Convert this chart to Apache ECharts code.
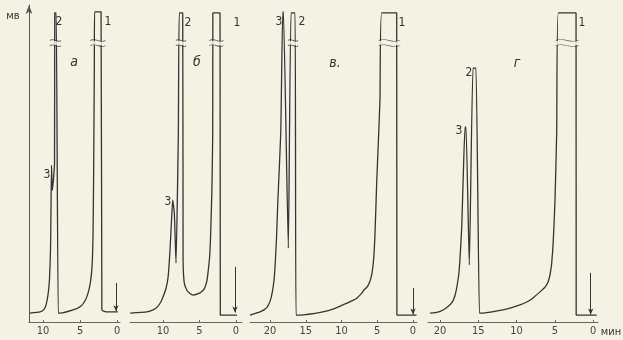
<!DOCTYPE html>
<html><head><meta charset="utf-8">
<script src="https://cdn.jsdelivr.net/npm/echarts@6/dist/echarts.min.js"></script>
<style>html,body{margin:0;padding:0;background:#f4f2e3;}#c{width:623px;height:340px;}</style>
</head><body><div id="c"></div>
<script>
// ---- data (time in minutes, signal in relative mV units 0..100) ----
const curveA = [[11.8,2.8],[10.4,3.2],[9.9,3.9],[9.6,5.3],[9.3,9.1],[9.12,14],[9.0,22],[8.95,30],[8.86,49.5],[8.74,41.5],[8.45,50],[8.42,97.5],[8.22,97.5],[7.95,2.8],[7.7,2.8],[5.95,3.8],[4.9,5.0],[4.3,6.8],[3.92,9.1],[3.6,12.5],[3.38,17.4],[3.25,27],[3.17,45],[3.07,80.4],[3.04,97.8],[2.16,97.8],[2.05,3.8],[1.5,3.2],[-0.1,3.2]];
const curveB = [[14.5,2.8],[12.2,3.2],[11.3,3.9],[10.8,4.7],[10.3,6.3],[10.0,7.9],[9.6,10.5],[9.3,14.2],[9.04,22.7],[8.81,33.1],[8.67,38.5],[8.45,34.4],[8.22,18.6],[7.9,59.6],[7.77,97.5],[7.3,97.5],[7.25,20],[7.1,12.5],[6.75,10.1],[6.3,9.0],[5.89,8.5],[4.93,9.2],[4.5,10.0],[4.25,11.0],[4.0,12.8],[3.84,15.5],[3.6,21],[3.47,28.1],[3.3,42],[3.19,59.6],[3.17,97.5],[2.19,97.5],[2.15,2.2],[-0.14,2.2]];
const curveV = [[22.8,2.2],[21.4,3.2],[20.8,3.9],[20.4,4.7],[20.0,6.5],[19.7,9.2],[19.45,13],[19.3,17.4],[19.1,26],[18.9,38.5],[18.5,59.6],[18.22,97.8],[18.12,97.8],[17.44,23.3],[17.06,97.5],[16.5,97.5],[16.36,2.2],[15.8,2.2],[12.6,3.2],[11.0,4.2],[9.8,5.4],[8.7,6.5],[7.83,7.6],[7.13,9.2],[6.9,10.0],[6.43,11.0],[6.0,13.0],[5.73,15.5],[5.5,20],[5.31,28.1],[5.08,43.9],[4.85,56.5],[4.62,70.0],[4.38,97.5],[2.28,97.5],[2.25,2.2],[-0.5,2.2]];
const curveG = [[21.3,2.8],[20.3,3.1],[19.6,3.8],[19.0,4.8],[18.4,6.3],[18.05,8.3],[17.8,11.0],[17.55,15],[17.4,19.6],[17.16,30.0],[16.95,47.0],[16.73,61.5],[16.6,61.5],[16.17,18.0],[15.69,80.1],[15.3,80.1],[14.85,2.8],[14.6,2.8],[11.76,3.8],[9.54,5.4],[8.6,6.4],[7.84,7.6],[6.93,9.5],[6.27,11.0],[5.88,12.6],[5.6,15.2],[5.4,18.6],[5.19,25.9],[4.97,38.5],[4.75,59.6],[4.54,97.5],[2.22,97.5],[2.2,2.2],[-0.48,2.2]];

const ticksA = [0,5,10];
const ticksB = [0,5,10];
const ticksV = [0,5,10,15,20];
const ticksG = [0,5,10,15,20];

// injection arrows: [time, from, to]
const arrowA = [0.14, 12.3, 3.4];
const arrowB = [0.14, 17.4, 3.0];
const arrowV = [0.0, 10.7, 2.4];
const arrowG = [0.3, 15.5, 2.4];

// off-scale break marks: [time, level]
const breaksA = [[8.32,88],[2.6,88]];
const breaksB = [[7.53,88],[2.68,88]];
const breaksV = [[16.78,88],[3.33,88]];
const breaksG = [[3.38,88]];

// ---- styling / layout ----
const BG = '#f4f2e3', INK = '#343434';
const FONT = "'Liberation Sans Narrow','DejaVu Sans Condensed','DejaVu Sans',sans-serif";
const grids = [
  {left:29, width:91, min:-0.4, max:11.9, ticks:ticksA, curve:curveA, arrow:arrowA, breaks:breaksA, bw:[9,13]},
  {left:130, width:112, min:-0.82, max:14.52, ticks:ticksB, curve:curveB, arrow:arrowB, breaks:breaksB, bw:[8,12]},
  {left:250, width:167, min:-0.56, max:22.8, ticks:ticksV, curve:curveV, arrow:arrowV, breaks:breaksV, bw:[8,19]},
  {left:428, width:170, min:-0.65, max:21.57, ticks:ticksG, curve:curveG, arrow:arrowG, breaks:breaksG, bw:[21]}
];

const chart = echarts.init(document.getElementById('c'), null, {renderer:'canvas'});
const option = {
  backgroundColor: BG,
  animation: false,
  grid: grids.map(g => ({left:g.left, width:g.width, top:5, bottom:18, containLabel:false})),
  xAxis: grids.map((g,i) => ({
    type:'value', gridIndex:i, inverse:true, min:g.min, max:g.max,
    axisLine:{show:true, onZero:false, lineStyle:{color:'#666', width:1}},
    axisTick:{show:true, inside:true, length:2, customValues:g.ticks, lineStyle:{color:'#666'}},
    axisLabel:{customValues:g.ticks, fontSize:11, color:'#444', margin:4, fontFamily:FONT},
    splitLine:{show:false}
  })),
  yAxis: grids.map((g,i) => ({
    type:'value', gridIndex:i, min:0, max:100, show: i===0,
    axisLine:{show:true, onZero:false, symbol:['none','arrow'], symbolSize:[5,9], lineStyle:{color:'#555', width:1}},
    axisTick:{show:false}, axisLabel:{show:false}, splitLine:{show:false}
  })),
  series: []
};
grids.forEach((g,i) => {
  option.series.push({
    type:'line', xAxisIndex:i, yAxisIndex:i, data:g.curve, symbol:'none', z:2,
    smooth:0.15,
    lineStyle:{color:INK, width:1.3},
    markLine:{silent:true, symbol:['none','arrow'], symbolSize:[4,6], label:{show:false},
      lineStyle:{color:INK, width:1, type:'solid'},
      data:[[{coord:[g.arrow[0], g.arrow[1]]},{coord:[g.arrow[0], g.arrow[2]]}]]}
  });
  option.series.push({
    type:'scatter', xAxisIndex:i, yAxisIndex:i, z:3, silent:true,
    data:g.breaks.map((b,k)=>({value:b, symbolSize:[g.bw[k]+2,4]})),
    symbol:'rect', itemStyle:{color:BG}
  });
  option.series.push({
    type:'scatter', xAxisIndex:i, yAxisIndex:i, z:4, silent:true,
    data:g.breaks.map((b,k)=>({value:b, symbolSize:[g.bw[k]+2,7]})),
    symbol:'path://M0,3 C4,0 8,6 12,3 M0,8 C4,5 8,11 12,8',
    itemStyle:{color:'transparent', borderColor:INK, borderWidth:1}
  });
});
const txt = (x,y,t,opt={}) => ({type:'text', x, y, style:Object.assign({text:t, fill:INK, font:'12px '+FONT, textAlign:'center', textVerticalAlign:'middle'}, opt)});
option.graphic = [
  txt(13,16,'мв',{font:'11px '+FONT}),
  txt(611,332,'мин',{font:'11px '+FONT}),
  txt(74,62,'а',{font:'italic 14px '+FONT}),
  txt(197,62,'б',{font:'italic 14px '+FONT}),
  txt(335,63,'в.',{font:'italic 14px '+FONT}),
  txt(517,63,'г',{font:'italic 14px '+FONT}),
  txt(59,22,'2'), txt(108,22,'1'), txt(47,175,'3'),
  txt(188,23,'2'), txt(237,23,'1'), txt(168,202,'3'),
  txt(279,22,'3'), txt(302,22,'2'), txt(402,23,'1'),
  txt(582,23,'1'), txt(469,73,'2'), txt(459,131,'3')
];
chart.setOption(option);
</script></body></html>
